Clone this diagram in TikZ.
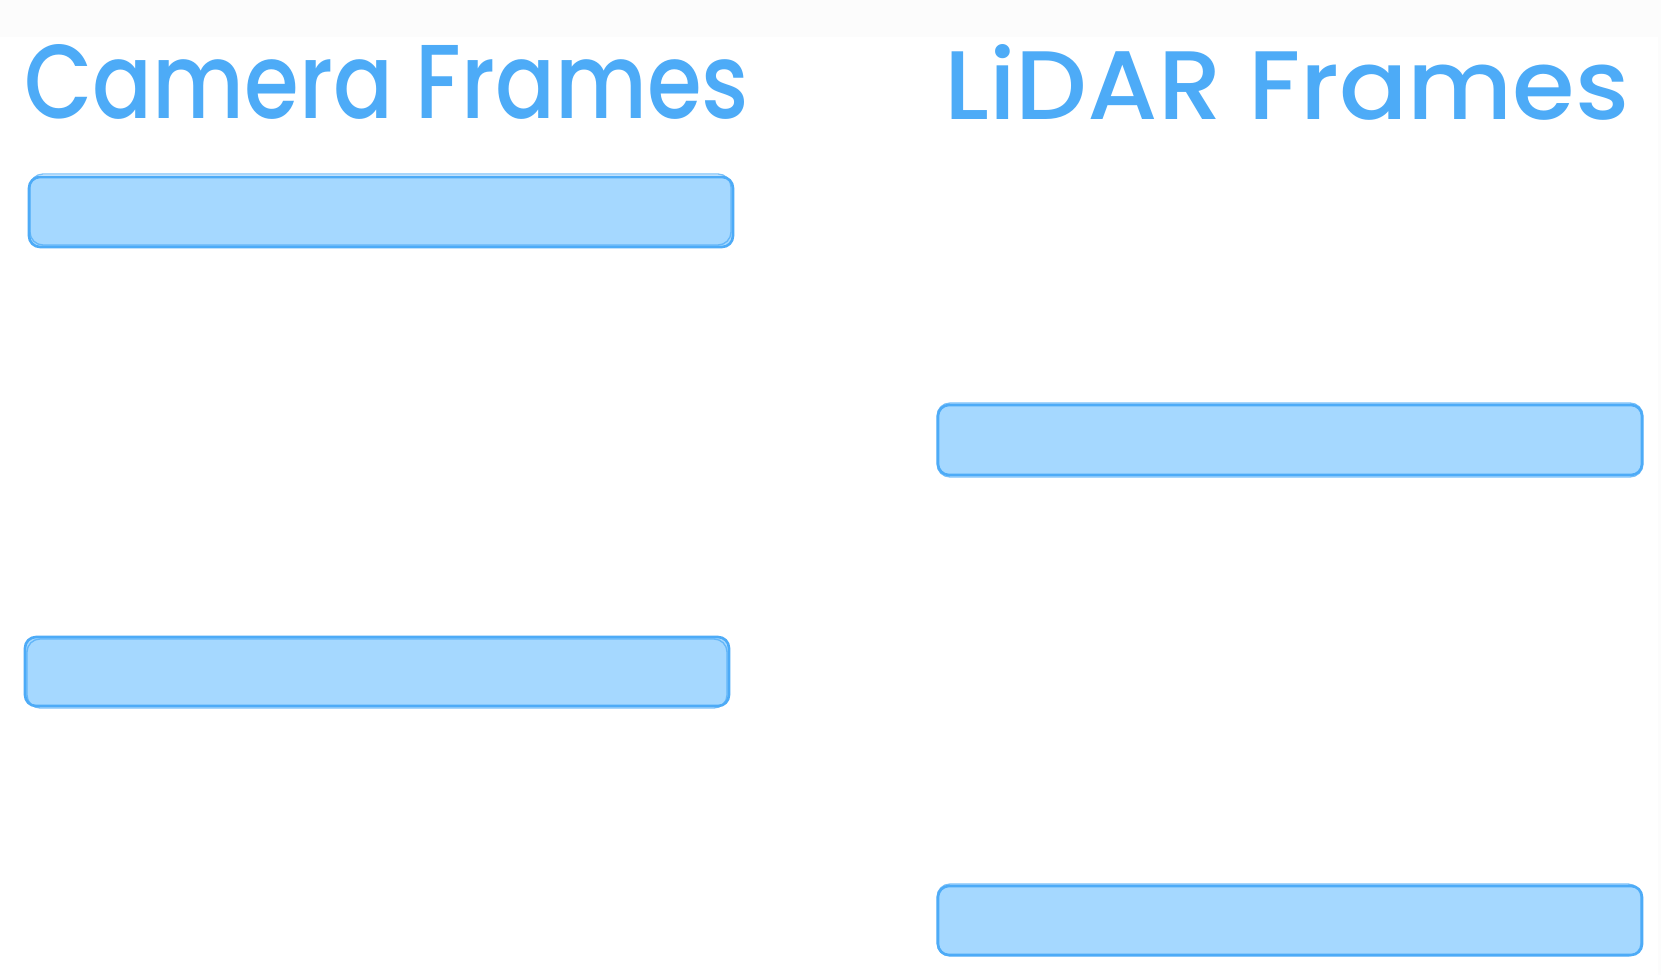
\documentclass[tikz,border=0pt]{standalone}
\usepackage{fontspec}
\setmainfont{Poppins}
\newfontfamily\titlefont{Poppins Medium}
\usepackage{graphicx}
\definecolor{strokeblue}{HTML}{4DABF7}
\definecolor{fillblue}{HTML}{A5D8FF}
\definecolor{bandgray}{HTML}{FCFCFC}
\tikzset{
  framebox/.style={fill=fillblue, draw=strokeblue, line width=2.6pt, rounded corners=11pt},
  sketchline/.style={draw=strokeblue, line width=1.3pt, rounded corners=13pt, opacity=0.75},
  title/.style={text=strokeblue, inner sep=0pt, anchor=base west},
}
\newcommand{\titletext}[3]{\resizebox{#1}{#2}{\titlefont\fontsize{100}{110}\selectfont #3}}
\begin{document}
\begin{tikzpicture}[x=1pt,y=-1pt]
  \useasboundingbox[fill=white] (0,0) rectangle (1661,975);
  \fill[bandgray] (0,0) rectangle (1661,37);
  \fill[bandgray] (1658,0) rectangle (1661,975);

  % titles
  \node[title] (camt) at (24,118) {\titletext{725pt}{74pt}{Camera Frames}};
  \node[title] (lidt) at (944,119) {\titletext{685pt}{75pt}{LiDAR Frames}};

  % camera frames
  \draw[framebox] (29,177) rectangle (733,247);
  \draw[sketchline] (30,174) rectangle (731,245);
  \node[inner sep=0pt] (cam1) at (381,212) {};

  \draw[framebox] (25,637) rectangle (729,706);
  \draw[sketchline] (27,639) rectangle (727,708);
  \node[inner sep=0pt] (cam2) at (377,671) {};

  % lidar frames
  \draw[framebox] (938,405) rectangle (1642,475);
  \draw[sketchline] (937,403) rectangle (1643,477);
  \node[inner sep=0pt] (lid1) at (1290,440) {};

  \draw[framebox] (938,886) rectangle (1642,955);
  \draw[sketchline] (937,884) rectangle (1641,956);
  \node[inner sep=0pt] (lid2) at (1290,920) {};
\end{tikzpicture}
\end{document}
